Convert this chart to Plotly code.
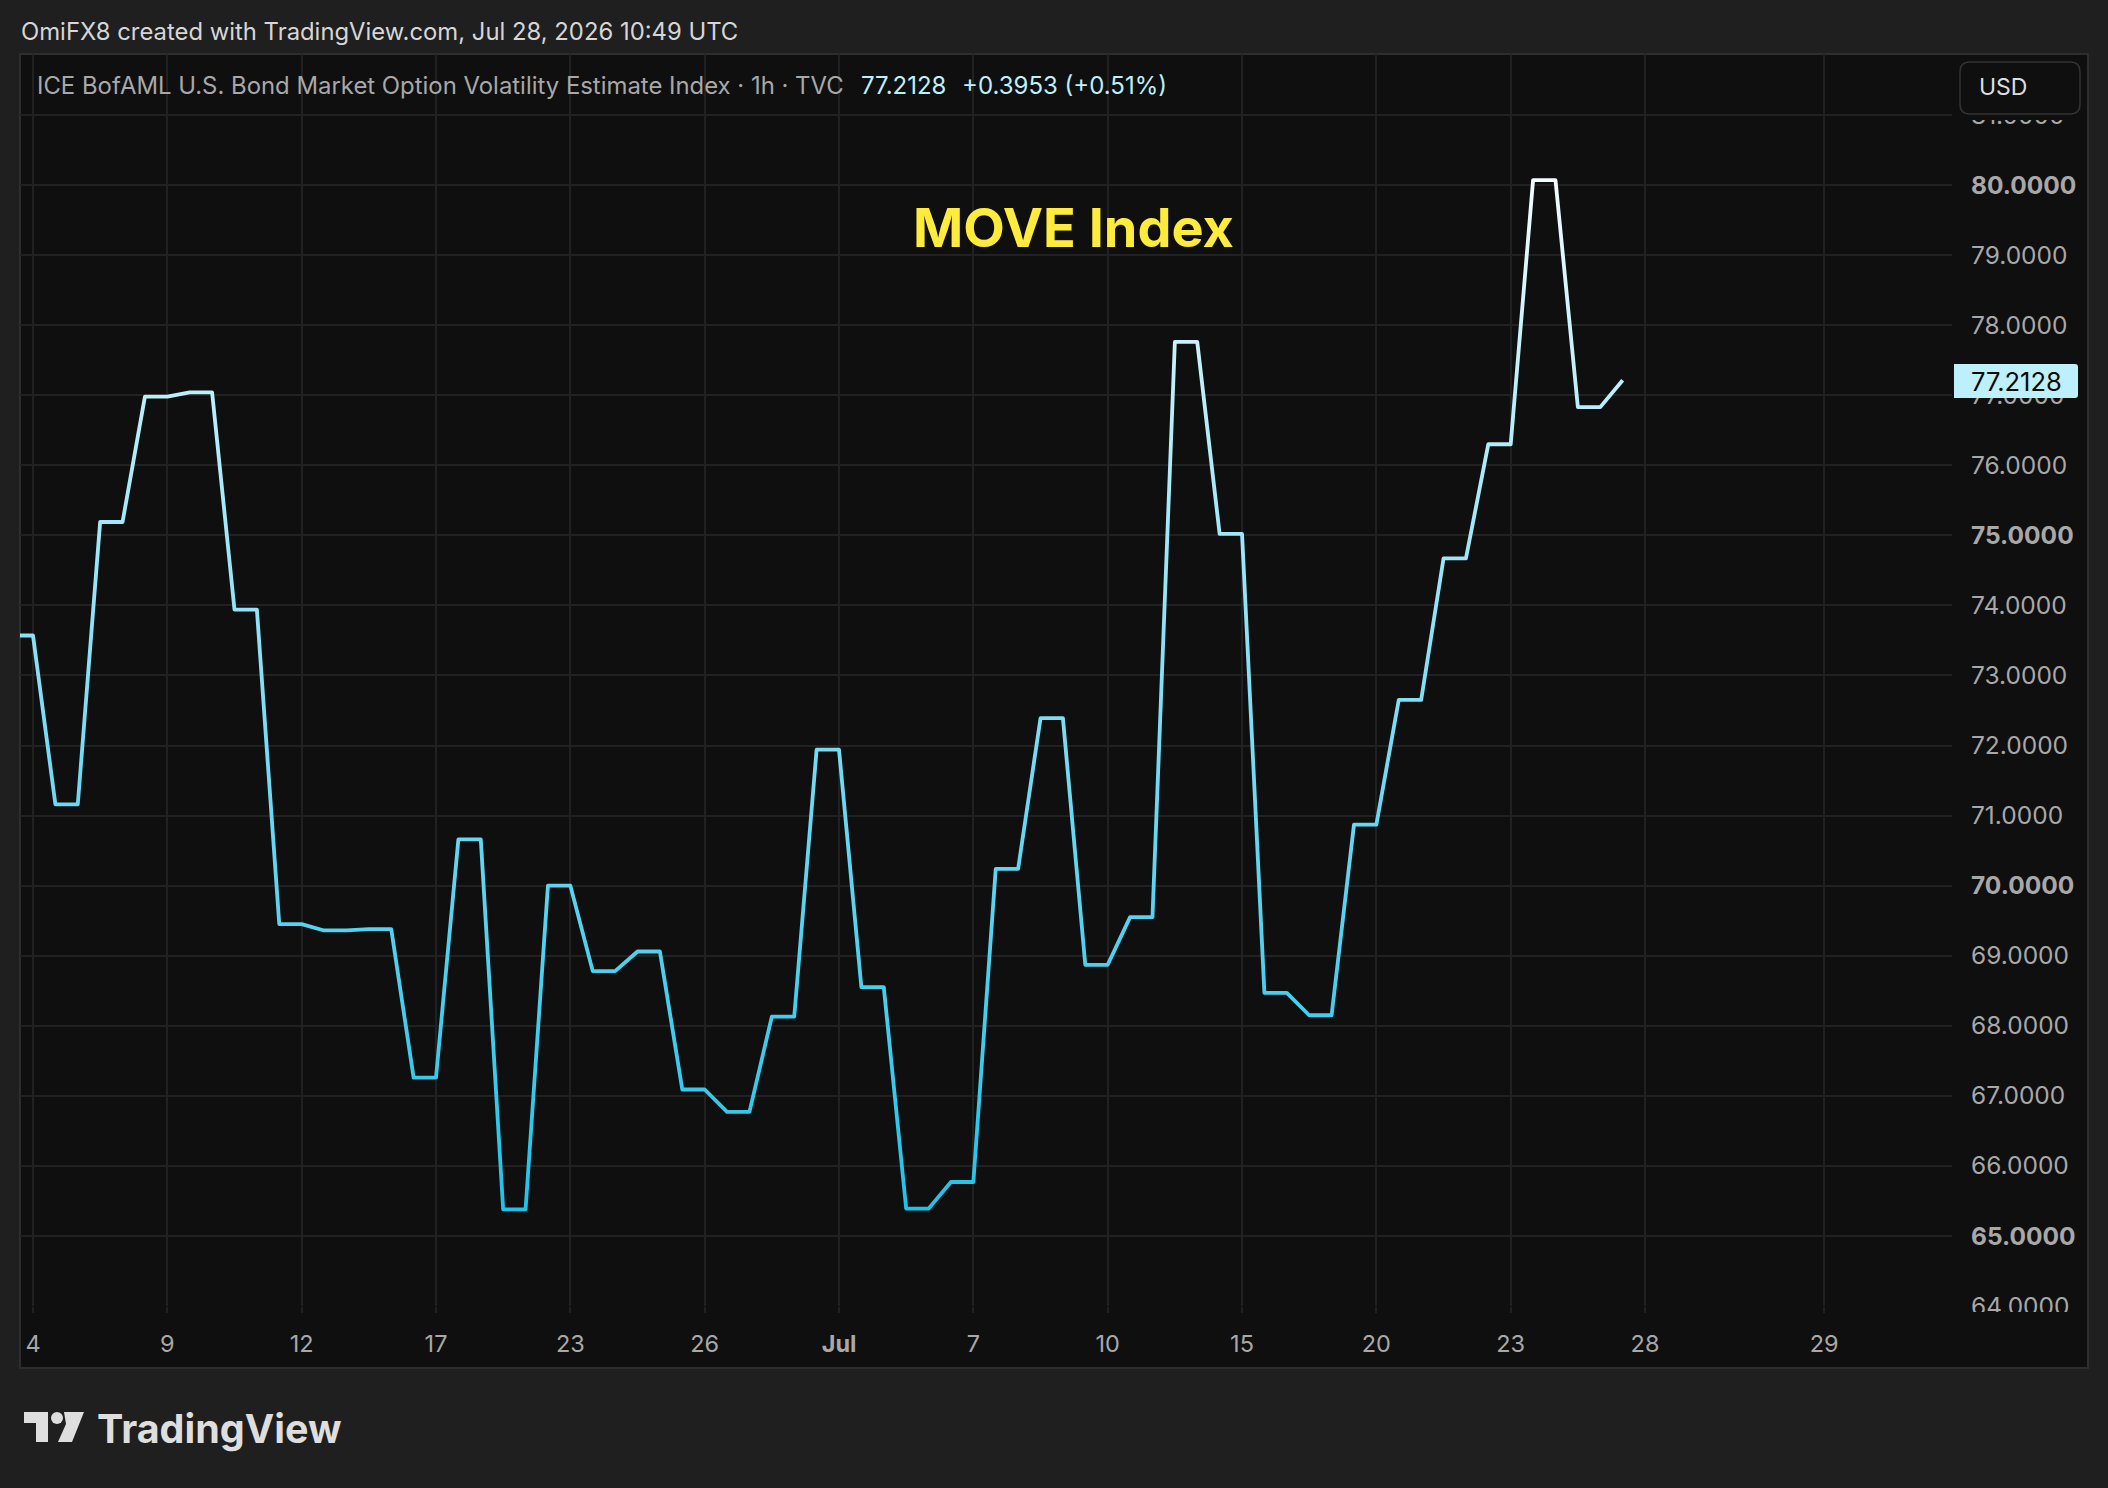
import plotly.graph_objects as go

W, H = 2108, 1488

# Pane geometry in page pixels
PANE_L, PANE_R, PANE_T, PANE_B = 20, 2088, 54, 1368
PLOT_R, PLOT_B = 1952, 1306

BG = "#1f1f1f"
PANE = "#0f0f0f"
GRID = "#212121"
FRAME = "#2e2e2e"
AQUA = "#bdf0fb"
LOGO = "#dedede"

# Hourly closes on the chart's bar index; the first entry lies left of the pane
bar_index = list(range(-1, 72))
closes = [
    73.57, 73.57, 71.16, 71.16, 75.19, 75.19, 76.98, 76.98, 77.04, 77.04,
    73.94, 73.94, 69.45, 69.45, 69.36, 69.36, 69.38, 69.38, 67.26, 67.26,
    70.66, 70.66, 65.38, 65.38, 70.00, 70.00, 68.78, 68.78, 69.06, 69.06,
    67.09, 67.09, 66.77, 66.77, 68.13, 68.13, 71.94, 71.94, 68.55, 68.55,
    65.39, 65.39, 65.77, 65.77, 70.24, 70.24, 72.39, 72.39, 68.87, 68.87,
    69.55, 69.55, 77.76, 77.76, 75.02, 75.02, 68.47, 68.47, 68.15, 68.15,
    70.87, 70.87, 72.65, 72.65, 74.67, 74.67, 76.30, 76.30, 80.07, 80.07,
    76.83, 76.83, 77.2128,
]
last_close = closes[-1]

x_tick_pos = [0, 6, 12, 18, 24, 30, 36, 42, 48, 54, 60, 66, 72, 80]
x_tick_txt = ["4", "9", "12", "17", "23", "26", "<b>Jul</b>", "7", "10", "15",
              "20", "23", "28", "29"]
y_tick_pos = list(range(64, 82))
y_tick_txt = [f"<b>{v}.0000</b>" if v % 5 == 0 else f"{v}.0000" for v in y_tick_pos]

header_text = "OmiFX8 created with TradingView.com, Jul 28, 2026 10:49 UTC"
series_name = "ICE BofAML U.S. Bond Market Option Volatility Estimate Index · 1h · TVC"
last_text = f"{last_close:.4f}"
change_text = "+0.3953 (+0.51%)"


def px(x):
    return x / W


def py(y):
    return 1 - y / H


def rect(x0, y0, x1, y1, fill=None, line=None, width=0, layer="above"):
    return dict(type="rect", xref="paper", yref="paper", layer=layer,
                x0=px(x0), x1=px(x1), y0=py(y0), y1=py(y1),
                fillcolor=fill or "rgba(0,0,0,0)",
                line=dict(color=line or "rgba(0,0,0,0)", width=width))


def label(x, y, text, size, color, anchor="left", **kw):
    return dict(xref="paper", yref="paper", x=px(x), y=py(y), text=text,
                showarrow=False, xanchor=anchor, yanchor="middle",
                font=dict(family="Inter", size=size, color=color), **kw)


def polygon(points, fill):
    # Closed outline on the page's pixel grid, converted to paper fractions
    d = "M" + " L".join(f"{px(a):.5f},{py(b):.5f}" for a, b in points) + " Z"
    return dict(type="path", xref="paper", yref="paper", path=d, layer="above",
                fillcolor=fill, line=dict(width=0))


fig = go.Figure(
    go.Scatter(
        x=bar_index, y=closes, mode="lines",
        line=dict(color="#6fdcf5", width=3.8, shape="linear"),
        hoverinfo="skip",
    )
)

shapes = [
    rect(PANE_L, PANE_T, PANE_R, PANE_B, fill=PANE, line=FRAME, width=2, layer="below"),
    # Clip the partly hidden 81 and 64 scale labels
    rect(PLOT_R + 1, PANE_T + 1, PANE_R - 2, 120, fill=PANE),
    rect(PLOT_R + 1, 1312, PANE_R - 2, 1330, fill=PANE),
    # Currency button
    dict(type="path", xref="paper", yref="paper", layer="above",
         path=(f"M{px(1970):.5f},{py(62):.5f} L{px(2070):.5f},{py(62):.5f} "
               f"Q{px(2080):.5f},{py(62):.5f} {px(2080):.5f},{py(72):.5f} "
               f"L{px(2080):.5f},{py(104):.5f} "
               f"Q{px(2080):.5f},{py(114):.5f} {px(2070):.5f},{py(114):.5f} "
               f"L{px(1970):.5f},{py(114):.5f} "
               f"Q{px(1960):.5f},{py(114):.5f} {px(1960):.5f},{py(104):.5f} "
               f"L{px(1960):.5f},{py(72):.5f} "
               f"Q{px(1960):.5f},{py(62):.5f} {px(1970):.5f},{py(62):.5f} Z"),
         fillcolor=PANE, line=dict(color="#333333", width=1.5)),
    # Last-price tag
    dict(type="path", xref="paper", yref="paper", layer="above",
         path=(f"M{px(1954):.5f},{py(364):.5f} L{px(2075):.5f},{py(364):.5f} "
               f"Q{px(2078):.5f},{py(364):.5f} {px(2078):.5f},{py(367):.5f} "
               f"L{px(2078):.5f},{py(395):.5f} "
               f"Q{px(2078):.5f},{py(398):.5f} {px(2075):.5f},{py(398):.5f} "
               f"L{px(1954):.5f},{py(398):.5f} Z"),
         fillcolor=AQUA, line=dict(width=0)),
    # TradingView mark: bar with stem, dot, slanted stroke
    polygon([(24, 1412), (48, 1412), (48, 1442), (36, 1442), (36, 1423), (24, 1423)], LOGO),
    polygon([(64, 1412), (84, 1412), (72, 1442), (58, 1442), (66, 1424)], LOGO),
    dict(type="circle", xref="paper", yref="paper", layer="above",
         x0=px(51), x1=px(63), y0=py(1412), y1=py(1424),
         fillcolor=LOGO, line=dict(width=0)),
]

annotations = [
    label(19, 32, header_text, 23.85, "#d6d6d6"),
    label(35, 85, series_name, 23.9, "#a8a8a8"),
    label(859, 85, last_text, 24, AQUA),
    label(960, 85, change_text, 24, AQUA),
    label(1977, 87, "USD", 23, "#dddddd"),
    label(1969, 381, last_text, 25.5, "#0b0b0b"),
    label(1073, 228, "<b>MOVE Index</b>", 54, "#ffeb3b", anchor="center"),
    label(95, 1429, "<b>TradingView</b>", 39.5, LOGO),
]

fig.update_layout(
    width=W, height=H,
    margin=dict(l=0, r=0, t=0, b=0),
    paper_bgcolor=BG, plot_bgcolor=PANE,
    showlegend=False,
    shapes=shapes, annotations=annotations,
    font=dict(family="Inter"),
    xaxis=dict(
        domain=[px(PANE_L), px(PLOT_R)],
        range=[-0.58, 85.71],
        automargin=False,
        tickmode="array", tickvals=x_tick_pos, ticktext=x_tick_txt,
        tickfont=dict(family="Inter", size=23.5, color="#a8a8a8"),
        showgrid=True, gridcolor=GRID, gridwidth=1.5,
        ticks="outside", ticklen=6, tickcolor=GRID, tickwidth=1.5,
        ticklabelstandoff=11,
        zeroline=False, showline=False,
    ),
    yaxis=dict(
        domain=[py(PLOT_B), py(PANE_T)],
        range=[64, 81.87],
        automargin=False,
        side="right", anchor="x",
        tickmode="array", tickvals=y_tick_pos, ticktext=y_tick_txt,
        tickfont=dict(family="Inter", size=24.5, color="#a8a8a8"),
        showgrid=True, gridcolor=GRID, gridwidth=1.5,
        ticks="", ticklabelstandoff=18,
        zeroline=False, showline=False,
    ),
)

# The price line fades from near white at its high to cyan at its low
gradient_script = """
var gd = document.getElementById('{plot_id}');
var ya = gd._fullLayout.yaxis;
var svg = gd.querySelector('.main-svg');
var ns = 'http://www.w3.org/2000/svg';
var defs = svg.querySelector('defs') || svg.insertBefore(document.createElementNS(ns, 'defs'), svg.firstChild);
var g = document.createElementNS(ns, 'linearGradient');
g.setAttribute('id', 'closeFade');
g.setAttribute('gradientUnits', 'userSpaceOnUse');
g.setAttribute('x1', 0); g.setAttribute('x2', 0);
g.setAttribute('y1', ya.d2p(80.07)); g.setAttribute('y2', ya.d2p(65.38));
[['0', '#f2fcff'], ['0.2', '#bdf0fb'], ['0.5', '#80dff6'], ['1', '#1fc3e8']].forEach(function (s) {
  var st = document.createElementNS(ns, 'stop');
  st.setAttribute('offset', s[0]); st.setAttribute('stop-color', s[1]);
  g.appendChild(st);
});
defs.appendChild(g);
gd.querySelectorAll('.scatterlayer .js-line').forEach(function (p) {
  p.style.stroke = 'url(#closeFade)';
  p.style.strokeLinejoin = 'round';
});
"""

fig.write_html("out.html", post_script=gradient_script)
